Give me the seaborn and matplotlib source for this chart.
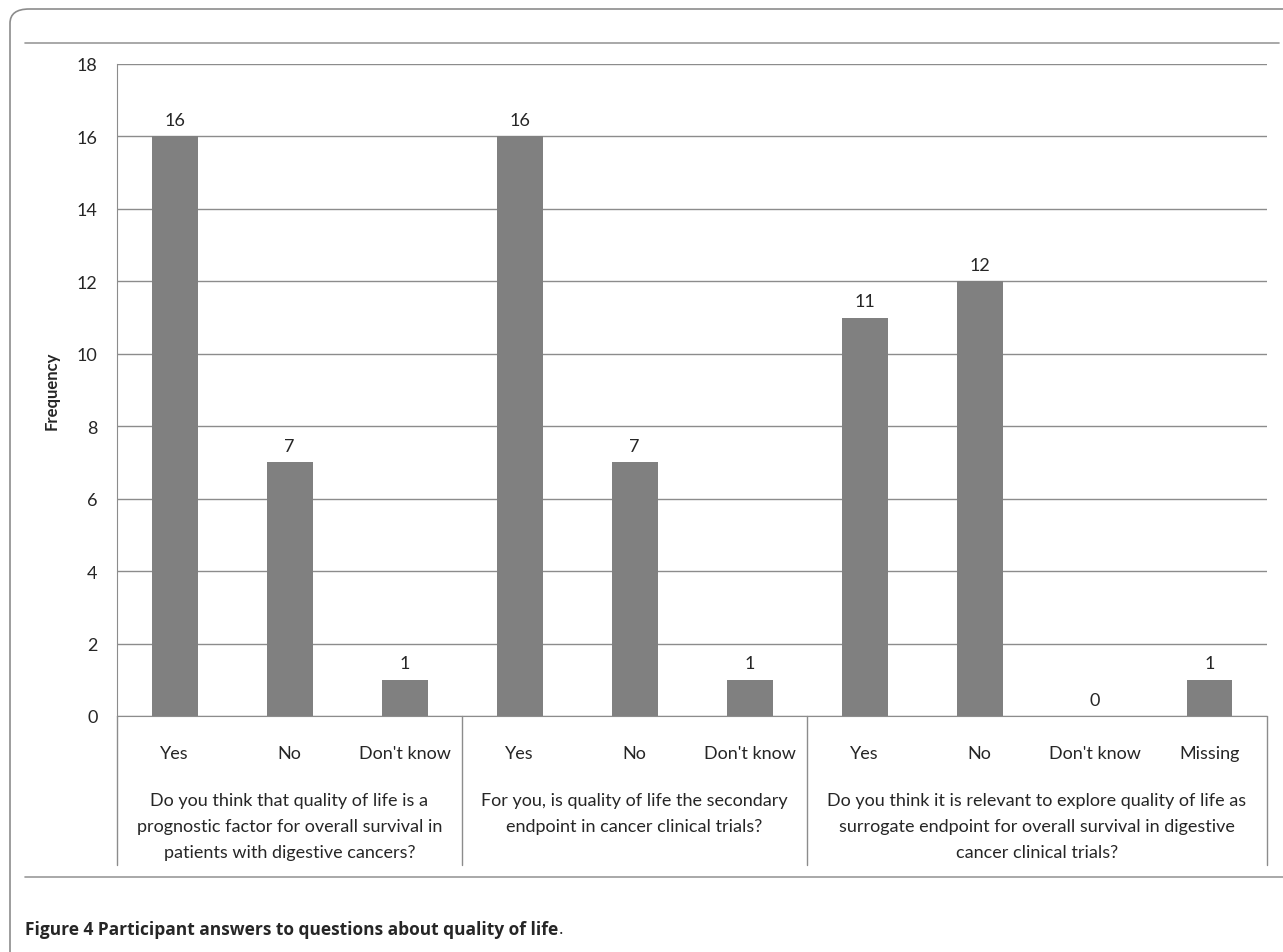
import numpy as np
import pandas as pd
import seaborn as sns
import matplotlib.pyplot as plt
from matplotlib.patches import FancyBboxPatch
from matplotlib.lines import Line2D

answers = ["Yes", "No", "Don't know", "Yes", "No", "Don't know", "Yes", "No", "Don't know", "Missing"]
group_of = [0, 0, 0, 1, 1, 1, 2, 2, 2, 2]
counts = [16, 7, 1, 16, 7, 1, 11, 12, 0, 1]
questions = [
    "Do you think that quality of life is a\nprognostic factor for overall survival in\npatients with digestive cancers?",
    "For you, is quality of life the secondary\nendpoint in cancer clinical trials?",
    "Do you think it is relevant to explore quality of life as\nsurrogate endpoint for overall survival in digestive\ncancer clinical trials?",
]

df = pd.DataFrame({
    "slot": [f"{g}-{a}" for g, a in zip(group_of, answers)],
    "answer": answers,
    "count": counts,
})

sns.set_style("white")
plt.rcParams["font.family"] = ["Lato", "DejaVu Sans"]

W, H = 1283, 953
fig = plt.figure(figsize=(W / 100, H / 100), dpi=100)

# rounded frame, top and bottom rules
frame = FancyBboxPatch((10 / W, -40 / H), 1400 / W, (943 + 40) / H,
                       boxstyle="round,pad=0,rounding_size=0.015",
                       transform=fig.transFigure, fill=False, ec="#8c8c8c", lw=1.2)
fig.patches.append(frame)
fig.lines.append(Line2D([25 / W, 1279 / W], [1 - 44 / H, 1 - 44 / H], transform=fig.transFigure, color="#999999", lw=1.2))
fig.lines.append(Line2D([25 / W, 1283 / W], [1 - 878 / H, 1 - 878 / H], transform=fig.transFigure, color="#999999", lw=1.2))

ax = fig.add_axes([117 / W, 1 - 717 / H, (1267 - 117) / W, (717 - 65) / H])
ax.set_axisbelow(True)
sns.barplot(data=df, x="slot", y="count", color="#808080", width=0.4,
            saturation=1, linewidth=0, edgecolor="none", ax=ax)
for c in ax.containers:
    ax.bar_label(c, padding=6, fontsize=13)

ax.set_ylim(0, 18)
ax.set_xlim(-0.5, len(answers) - 0.5)
ax.set_yticks(np.arange(0, 19, 2))
ax.tick_params(axis="y", labelsize=13, length=0, pad=14)
ax.tick_params(axis="x", labelsize=13, length=0, pad=21)
ax.set_xticks(range(len(answers)))
ax.set_xticklabels(answers)
ax.set_xlabel("")
ax.set_ylabel("Frequency", fontsize=12, fontweight="bold", labelpad=12)
ax.yaxis.grid(True, color="#8c8c8c", lw=1)
for s in ["top", "right"]:
    ax.spines[s].set_visible(False)
ax.spines["left"].set_color("#8c8c8c")
ax.spines["bottom"].set_color("#8c8c8c")

# group separators and question labels
seps = [-0.5, 2.5, 5.5, len(answers) - 0.5]
trans = ax.get_xaxis_transform()
depth = (866 - 717) / (717 - 65)
for x in seps:
    ax.plot([x, x], [0, -depth], transform=trans, color="#8c8c8c", lw=1, clip_on=False)
for i, q in enumerate(questions):
    xc = (seps[i] + seps[i + 1]) / 2
    ax.text(xc, -(793 - 717) / (717 - 65), q, transform=trans, ha="center", va="top",
            fontsize=13, linespacing=1.78)

# caption
t = fig.text(25 / W, 1 - 930 / H, "Figure 4 Participant answers to questions about quality of life",
             fontsize=12.5, fontweight="bold", va="center", family=["Open Sans", "DejaVu Sans"])
fig.canvas.draw()
bb = t.get_window_extent()
fig.text(bb.x1 / W, 1 - 930 / H, ".", fontsize=12.5, va="center", family=["Open Sans", "DejaVu Sans"])

fig.savefig("out.png", dpi=100)
